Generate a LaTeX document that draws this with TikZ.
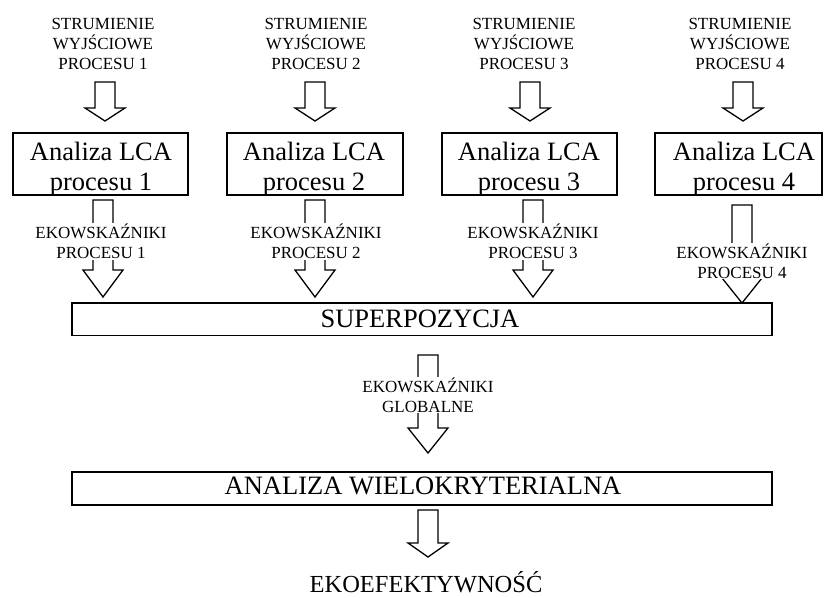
\documentclass[tikz,border=0pt]{standalone}
\usepackage{fontspec}
\setmainfont{Liberation Serif}
\usetikzlibrary{calc}

\begin{document}
\begin{tikzpicture}[x=1pt, y=-1pt,
  lcabox/.style={draw, line width=1.8pt, minimum width=175pt, minimum height=62.5pt, inner sep=0pt},
  widebox/.style={draw, line width=1.8pt, minimum width=700pt, minimum height=33pt, inner sep=0pt},
  lbl/.style={font=\fontsize{17}{20}\selectfont, align=center, fill=white, inner sep=1pt},
  bigtxt/.style={font=\fontsize{26.5}{30}\selectfont, align=center, inner sep=0pt},
  blok/.style={draw, line width=1.3pt, fill=white, to path={let \p1=(\tikztostart), \p2=(\tikztotarget) in
    (\x1-10pt,\y1) -- (\x1-10pt,\y2+#1) -- (\x1-20pt,\y2+#1) -- (\x2,\y2) -- (\x1+20pt,\y2+#1) -- (\x1+10pt,\y2+#1) -- (\x1+10pt,\y1) -- cycle}}]
\useasboundingbox (0,0) rectangle (824,597);

% bloki
\node[lcabox] (b1) at (100.5,164) {};
\node[lcabox, minimum width=176pt] (b2) at (315,164) {};
\node[lcabox] (b3) at (529.5,164) {};
\node[lcabox, minimum width=167pt] (b4) at (738.5,164) {};
\node[widebox, minimum height=32.5pt] (sup) at (422,319.25) {};
\node[widebox] (mcda) at (422,488.5) {};

% strzalki
\coordinate (top1s) at (105,82);  \coordinate (top1e) at (105,121);
\coordinate (top2s) at (315,82);  \coordinate (top2e) at (315,121);
\coordinate (top3s) at (530,82);  \coordinate (top3e) at (530,121);
\coordinate (top4s) at (743,82);  \coordinate (top4e) at (743,121);
\draw[blok=13pt] (top1s) to (top1e); \draw[blok=13pt] (top2s) to (top2e);
\draw[blok=13pt] (top3s) to (top3e); \draw[blok=13pt] (top4s) to (top4e);
\coordinate (eko1s) at (103,200); \coordinate (eko1e) at (103,297);
\coordinate (eko2s) at (315,200); \coordinate (eko2e) at (315,297);
\coordinate (eko3s) at (533,200); \coordinate (eko3e) at (533,297);
\coordinate (eko4s) at (742,205); \coordinate (eko4e) at (742,303);
\draw[blok=27pt] (eko1s) to (eko1e); \draw[blok=27pt] (eko2s) to (eko2e);
\draw[blok=27pt] (eko3s) to (eko3e); \draw[blok=25pt] (eko4s) to (eko4e);
\coordinate (globs) at (428,355); \coordinate (globe) at (428,453);
\coordinate (ends) at (428,510);  \coordinate (ende) at (428,557);
\draw[blok=25pt] (globs) to (globe); \draw[blok=14pt] (ends) to (ende);

% opisy
\node[lbl] (we1) at (103,44) {STRUMIENIE\\WYJŚCIOWE\\PROCESU 1};
\node[lbl] (we2) at (316,44) {STRUMIENIE\\WYJŚCIOWE\\PROCESU 2};
\node[lbl] (we3) at (524,44) {STRUMIENIE\\WYJŚCIOWE\\PROCESU 3};
\node[lbl] (we4) at (740,44) {STRUMIENIE\\WYJŚCIOWE\\PROCESU 4};
\node[bigtxt] (t1) at (101,168.8) {Analiza LCA\\procesu 1};
\node[bigtxt] (t2) at (314,168.8) {Analiza LCA\\procesu 2};
\node[bigtxt] (t3) at (529,168.8) {Analiza LCA\\procesu 3};
\node[bigtxt] (t4) at (744,168.8) {Analiza LCA\\procesu 4};
\node[lbl] (ek1) at (101,241.5) {EKOWSKAŹNIKI\\PROCESU 1};
\node[lbl] (ek2) at (316,241.5) {EKOWSKAŹNIKI\\PROCESU 2};
\node[lbl] (ek3) at (533,241.5) {EKOWSKAŹNIKI\\PROCESU 3};
\node[lbl] (ek4) at (742,261) {EKOWSKAŹNIKI\\PROCESU 4};
\node[bigtxt] (tsup) at (420,319.2) {SUPERPOZYCJA};
\node[lbl] (ekg) at (428,395) {EKOWSKAŹNIKI\\GLOBALNE};
\node[bigtxt] (tmcda) at (423,486) {ANALIZA WIELOKRYTERIALNA};
\node[bigtxt, font=\fontsize{24.5}{28}\selectfont] (eef) at (426,582) {EKOEFEKTYWNOŚĆ};
\end{tikzpicture}
\end{document}
